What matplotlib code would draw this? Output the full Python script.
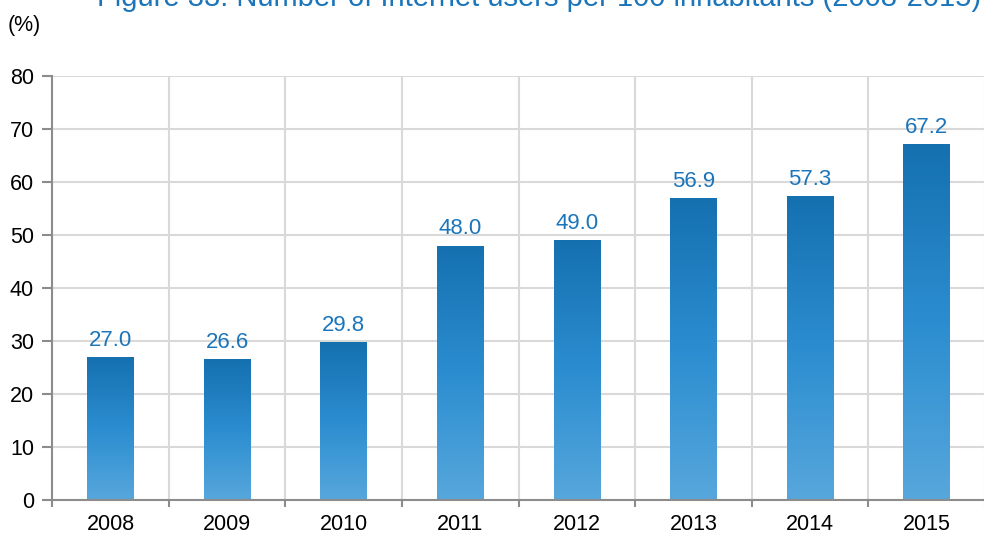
import numpy as np
import matplotlib.pyplot as plt
from matplotlib.colors import LinearSegmentedColormap

plt.rcParams['font.family'] = ['Liberation Sans', 'DejaVu Sans']

# data
years = ['2008', '2009', '2010', '2011', '2012', '2013', '2014', '2015']
users = [27.0, 26.6, 29.8, 48.0, 49.0, 56.9, 57.3, 67.2]

title_text = 'Figure 33: Number of Internet users per 100 inhabitants (2008-2015)'
label_color = '#1b75bb'
grid_color = '#d9d9d9'
spine_color = '#8c8c8c'

# bottom -> top colour of each bar
bar_cmap = LinearSegmentedColormap.from_list(
    'bars', ['#57a7dc', '#2b8dd0', '#1570b0'])


# ============================================================================
def plot_bars():
    fig = plt.figure(figsize=(9.84, 5.35), dpi=100)
    ax = fig.add_axes([0.053, 0.0654, 0.948, 0.7926])

    x = np.arange(len(years))
    bars = ax.bar(x, users, width=0.40, color='none', zorder=3)

    # vertical gradient clipped to each bar
    grad = np.linspace(0, 1, 256).reshape(-1, 1)
    for b, v in zip(bars, users):
        x0 = b.get_x()
        im = ax.imshow(grad, cmap=bar_cmap, origin='lower', aspect='auto',
                       extent=[x0, x0 + b.get_width(), 0, v], zorder=3,
                       interpolation='bilinear')
        im.set_clip_path(b)
        ax.annotate(f'{v:.1f}', (b.get_x() + b.get_width() / 2, v),
                    xytext=(0, 4.5), textcoords='offset points',
                    ha='center', va='bottom', fontsize=16,
                    color=label_color, zorder=4)

    ax.set_xlim(-0.5, len(years) - 0.5)
    ax.set_ylim(0, 80)
    ax.set_yticks(np.arange(0, 81, 10))

    # ticks at category boundaries, labels at centres
    ax.set_xticks(np.arange(-0.5, len(years), 1.0))
    ax.set_xticklabels([])
    ax.set_xticks(x, minor=True)
    ax.set_xticklabels(years, minor=True)
    ax.tick_params(axis='x', which='minor', length=0, labelsize=15.5, pad=10)
    ax.tick_params(axis='x', which='major', length=5, width=1.5,
                   color=spine_color)
    ax.tick_params(axis='y', length=7, width=1.5, color=spine_color,
                   labelsize=15.5, pad=6)

    ax.grid(True, which='major', color=grid_color, lw=1.5, zorder=0)
    ax.set_axisbelow(True)

    for s in ['top', 'right']:
        ax.spines[s].set_visible(False)
    for s in ['left', 'bottom']:
        ax.spines[s].set_color(spine_color)
        ax.spines[s].set_linewidth(1.5)
        ax.spines[s].set_zorder(5)

    fig.text(0.008, 0.953, '(%)', fontsize=15.5, ha='left', va='center')
    # title sits partly above the top edge
    fig.text(0.548, 1.004, title_text, fontsize=21, color='#1b75bb',
             ha='center', va='center')

    fig.savefig('out.png', dpi=100)


if __name__ == '__main__':
    plot_bars()
